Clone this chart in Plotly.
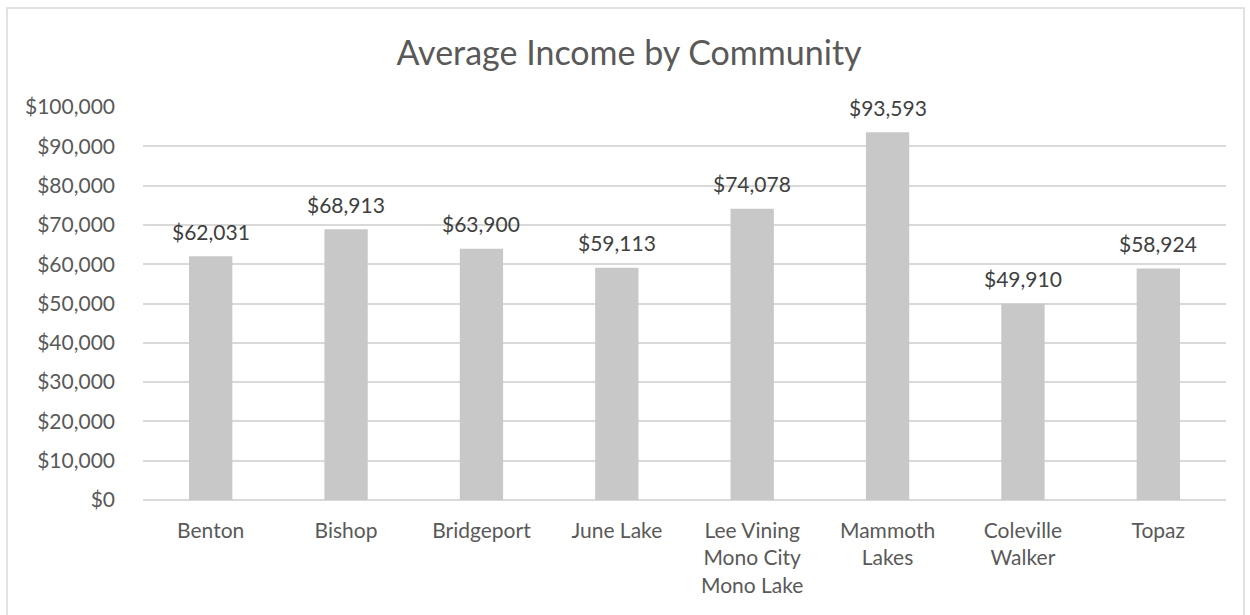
import plotly.graph_objects as go

categories = ["Benton", "Bishop", "Bridgeport", "June Lake",
              "Lee Vining<br>Mono City<br>Mono Lake", "Mammoth<br>Lakes",
              "Coleville<br>Walker", "Topaz"]
income = [62031, 68913, 63900, 59113, 74078, 93593, 49910, 58924]
tick_vals = [0, 10000, 20000, 30000, 40000, 50000, 60000, 70000, 80000, 90000, 100000]
tick_text = ["$" + format(v, ",") for v in tick_vals]
labels = ["$" + format(v, ",") for v in income]

W, H = 1250, 615
L, R, T, B = 143, 24, 107, 115
pw = W - L - R
ph = H - T - B

font = "Lato, 'Open Sans', sans-serif"
FS = 21

fig = go.Figure(go.Bar(
    x=categories, y=income,
    marker=dict(color="#c8c8c8", line=dict(width=0)),
    hoverinfo="x+y",
))

annotations = [dict(x=c, y=v, xref="x", yref="y", text=t, showarrow=False,
                    yanchor="middle", xanchor="center", yshift=25,
                    font=dict(size=FS, color="#404040", family=font))
               for c, v, t in zip(categories, income, labels)]

# outer chart border
x0 = (7 - L) / pw
x1 = (1244 - L) / pw
y1 = (H - 8 - B) / ph
y0 = (H - 640 - B) / ph

fig.update_layout(
    width=W, height=H,
    margin=dict(l=L, r=R, t=T, b=B, autoexpand=False),
    paper_bgcolor="white", plot_bgcolor="white",
    title=dict(text="Average Income by Community", x=629 / W, xref="container",
               xanchor="center", y=1 - 53 / H, yanchor="middle",
               font=dict(size=34, color="#595959", family=font)),
    bargap=0.68,
    showlegend=False,
    annotations=annotations,
    xaxis=dict(showgrid=False, showline=False, ticks="",
               tickfont=dict(size=FS, color="#595959", family=font),
               ticklabelstandoff=16),
    yaxis=dict(range=[0, 100000], tickvals=tick_vals, ticktext=tick_text,
               showgrid=True, gridcolor="#d9d9d9", gridwidth=1.5,
               zeroline=True, zerolinecolor="#d9d9d9", zerolinewidth=1.5,
               showline=False, ticks="",
               tickfont=dict(size=FS, color="#595959", family=font),
               ticklabelstandoff=27),
    shapes=[dict(type="rect", xref="paper", yref="paper",
                 x0=x0, x1=x1, y0=y0, y1=y1,
                 line=dict(color="#d9d9d9", width=1.5), layer="below")],
)

fig.write_html("out.html")
